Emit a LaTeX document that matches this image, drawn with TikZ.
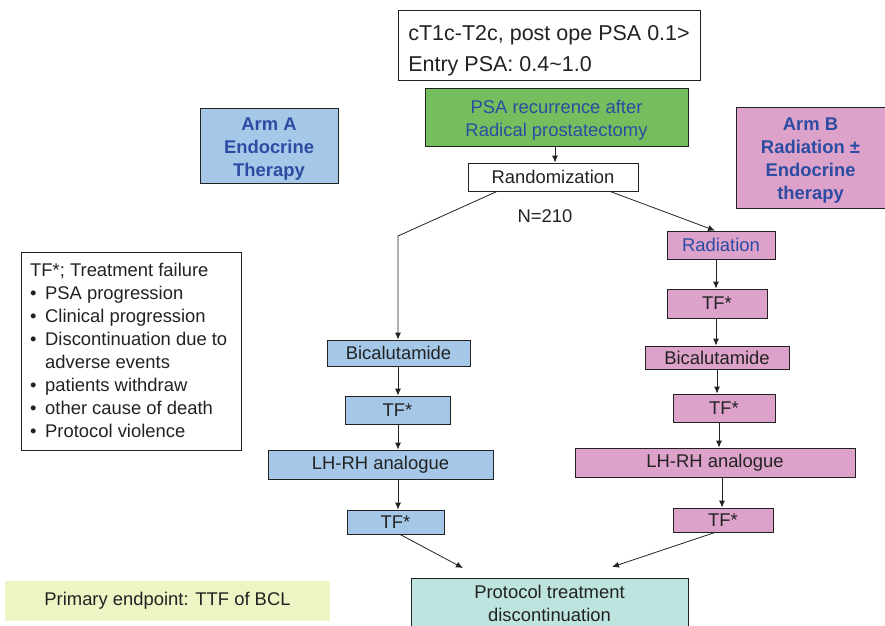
\documentclass[tikz,border=0pt]{standalone}
\usepackage{fontspec}
\setmainfont{Liberation Sans}
\usetikzlibrary{arrows.meta}
\definecolor{armblue}{HTML}{A6C8E8}
\definecolor{armpink}{HTML}{DDA2C9}
\definecolor{startgreen}{HTML}{75BE5E}
\definecolor{labelblue}{HTML}{2B4CA2}
\definecolor{endcyan}{HTML}{BEE4E0}
\definecolor{noteyellow}{HTML}{EEF4C4}
\definecolor{ink}{HTML}{222222}
\newcommand{\bul}{\makebox[15pt][l]{\textbullet}}
\newcommand{\lift}[1]{\rule{0pt}{#1}}

\begin{document}
\begin{tikzpicture}[x=1pt,y=-1pt,
  every node/.style={font=\fontsize{18.4}{23}\selectfont,text=ink},
  box/.style={draw=ink,line width=0.8pt,inner sep=0pt,align=center},
  bluebox/.style={box,fill=armblue},
  pinkbox/.style={box,fill=armpink},
  link/.style={draw=ink,line width=0.8pt,-{Latex[length=7pt,width=6pt]}}]
\useasboundingbox (0,0) rectangle (885,625);

% top of the flow
\node[box,minimum width=302pt,minimum height=70pt,align=left,
  font=\fontsize{21.5}{31}\selectfont] (entry) at (549,45)
  {\lift{25.5pt}cT1c-T2c, post ope PSA 0.1>\\Entry PSA: 0.4\textasciitilde 1.0};
\node[box,fill=startgreen,minimum width=263pt,minimum height=58pt,text=labelblue] (recur) at (556.5,117)
  {\lift{19.5pt}PSA recurrence after\\Radical prostatectomy};
\node[box,fill=white,minimum width=170pt,minimum height=28pt] (rand) at (553,177) {Randomization};
\node (n) at (545,216) {N=210};

% arm labels
\node[bluebox,minimum width=138pt,minimum height=75pt,text=labelblue,font=\fontsize{18.4}{23}\selectfont\bfseries] (armA) at (269,145.5)
  {\lift{19pt}Arm A\\Endocrine\\Therapy};
\node[pinkbox,minimum width=149pt,minimum height=101pt,text=labelblue,font=\fontsize{18.4}{23}\selectfont\bfseries] (armB) at (810.5,157.5)
  {\lift{19pt}Arm B\\Radiation ±\\Endocrine\\therapy};

% legend
\node[box,fill=white,minimum width=220pt,minimum height=198pt,anchor=north west] (legend) at (21,252) {};
\node[anchor=north west,align=left,inner sep=0pt] (legtext) at (30,263)
  {TF*; Treatment failure\\
   \bul PSA progression\\
   \bul Clinical progression\\
   \bul Discontinuation due to\\
   \hspace*{15pt}adverse events\\
   \bul patients withdraw\\
   \bul other cause of death\\
   \bul Protocol violence};

% arm A
\node[bluebox,minimum width=143pt,minimum height=26pt] (bicA) at (398.5,353) {Bicalutamide};
\node[bluebox,minimum width=105pt,minimum height=28pt] (tfA1) at (397.5,410) {TF*};
\node[bluebox,minimum width=225pt,minimum height=29pt] (lhA) at (380.5,464.5) {LH-RH analogue};
\node[bluebox,minimum width=97pt,minimum height=24pt] (tfA2) at (395.5,522) {TF*};

% arm B
\node[pinkbox,minimum width=108pt,minimum height=28pt,text=labelblue] (rad) at (721,245) {Radiation};
\node[pinkbox,minimum width=100pt,minimum height=29pt] (tfB1) at (717,303.5) {TF*};
\node[pinkbox,minimum width=144pt,minimum height=23pt] (bicB) at (717,357.5) {Bicalutamide};
\node[pinkbox,minimum width=102pt,minimum height=28pt] (tfB2) at (724,408) {TF*};
\node[pinkbox,minimum width=280pt,minimum height=29pt] (lhB) at (715,462.5) {LH-RH analogue};
\node[pinkbox,minimum width=100pt,minimum height=24pt] (tfB3) at (723,520) {TF*};

% bottom
\node[box,fill=endcyan,minimum width=277pt,minimum height=50pt] (stop) at (549.5,603)
  {Protocol treatment\\discontinuation};
\node[fill=noteyellow,minimum width=325pt,minimum height=40pt,inner sep=0pt] (primary) at (167.5,601)
  {Primary endpoint: TTF of BCL};

% connectors
\coordinate (bend) at (398,236);
\coordinate (inA) at (463,568);
\coordinate (inB) at (612,567);
\draw[link] (recur.south -| 555,0) -- (rand.north -| 555,0);
\draw[link] (rand.south -| 497,0) -- (bend) -- (bicA.north -| bend);
\draw[link] (rand.south -| 610,0) -- (rad.north -| 715,0);
\draw[link] (bicA.south -| 398,0) -- (tfA1.north -| 398,0);
\draw[link] (tfA1.south -| 398,0) -- (lhA.north -| 398,0);
\draw[link] (lhA.south -| 398,0) -- (tfA2.north -| 398,0);
\draw[link] (tfA2.south -| 400,0) -- (inA);
\draw[link] (rad.south -| 716,0) -- (tfB1.north -| 716,0);
\draw[link] (tfB1.south -| 716,0) -- (bicB.north -| 716,0);
\draw[link] (bicB.south -| 717,0) -- (tfB2.north -| 717,0);
\draw[link] (tfB2.south -| 719,0) -- (lhB.north -| 719,0);
\draw[link] (lhB.south -| 722,0) -- (tfB3.north -| 722,0);
\draw[link] (tfB3.south -| 715,0) -- (inB);
\end{tikzpicture}
\end{document}
